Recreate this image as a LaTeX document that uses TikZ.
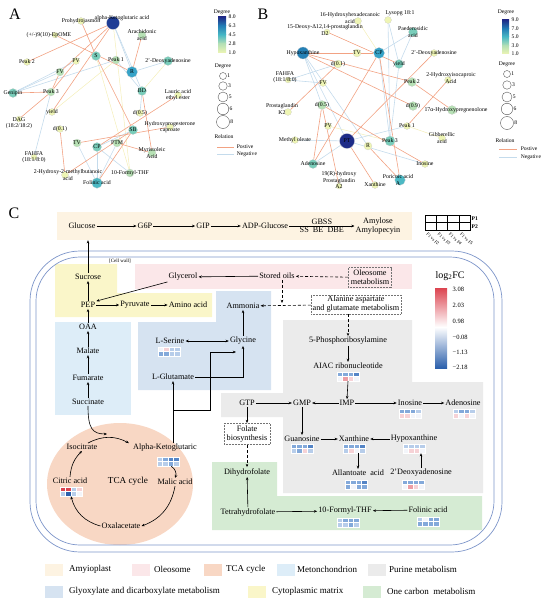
\documentclass[tikz,border=0pt]{standalone}
\usepackage{fontspec}
\setmainfont{Liberation Serif}
\usetikzlibrary{arrows.meta,backgrounds,positioning}

\definecolor{dg1}{HTML}{EEF5B4}
\definecolor{dg2}{HTML}{B7E1B5}
\definecolor{dg3}{HTML}{79CDBA}
\definecolor{dg4}{HTML}{4CB9C4}
\definecolor{dg5}{HTML}{36A3C8}
\definecolor{dg6}{HTML}{2480B6}
\definecolor{dg8}{HTML}{1F3D95}
\definecolor{dg9}{HTML}{1E2C88}
\definecolor{posc}{HTML}{F2A283}
\definecolor{negc}{HTML}{C4DBEC}
\definecolor{weakc}{HTML}{F4EEB8}
\definecolor{amyc}{HTML}{FDF3E2}
\definecolor{oleoc}{HTML}{FBE7E9}
\definecolor{tcac}{HTML}{F8D7C4}
\definecolor{mitoc}{HTML}{DDEDF8}
\definecolor{purc}{HTML}{EBEBEB}
\definecolor{glyoxc}{HTML}{D6E3F1}
\definecolor{cytoc}{HTML}{FAF6C9}
\definecolor{onecc}{HTML}{D5EBD3}
\definecolor{wallc}{HTML}{7D95C9}
\definecolor{hb1}{HTML}{B7CDEA}
\definecolor{hb2}{HTML}{83A9DA}
\definecolor{hb3}{HTML}{5585C6}
\definecolor{hb4}{HTML}{2C60AC}
\definecolor{hw}{HTML}{F3F5FA}
\definecolor{hr1}{HTML}{F6D2D6}
\definecolor{hr2}{HTML}{EC9EA5}
\definecolor{hr3}{HTML}{DC4450}

\begin{document}
\begin{tikzpicture}[
    x=1pt, y=-1pt,
    >={Stealth[length=3.2pt,width=2.6pt]},
    every node/.style={font=\fontsize{8.2}{9}\selectfont, inner sep=1pt},
    lab/.style={font=\fontsize{5.8}{6.2}\selectfont, align=center, inner sep=0pt},
    keyl/.style={font=\fontsize{5.6}{6}\selectfont, inner sep=0.5pt},
    nd/.style={circle, draw=black!20, line width=0.2pt, inner sep=0pt},
    deg1/.style={nd, fill=dg1, minimum size=7},
    deg2/.style={nd, fill=dg2, minimum size=8},
    deg3/.style={nd, fill=dg3, minimum size=9},
    deg4/.style={nd, fill=dg4, minimum size=10.5},
    deg5/.style={nd, fill=dg5, minimum size=11},
    deg6/.style={nd, fill=dg6, minimum size=12},
    deg8/.style={nd, fill=dg8, minimum size=13},
    deg9/.style={nd, fill=dg9, minimum size=15},
    legc/.style={circle, draw=black!65, line width=0.4pt, fill=white, inner sep=0pt},
    posl/.style={draw=posc, line width=0.6pt},
    negl/.style={draw=negc, line width=0.6pt},
    weakl/.style={draw=weakc, line width=0.5pt},
    arr/.style={->, line width=0.6pt},
    darr/.style={->, line width=0.6pt, densely dashed},
    dbox/.style={draw=black!55, densely dotted, line width=0.5pt, align=center, inner sep=2.5pt},
    txt/.style={align=center},
    hmap/.style={minimum width=22, minimum height=9, inner sep=0pt},
    swatch/.style={minimum width=18, minimum height=12, inner sep=0pt},
    leg/.style={font=\fontsize{9}{10}\selectfont, anchor=west},
    panel/.style={font=\fontsize{16}{16}\selectfont},
    wall/.style={draw=wallc, line width=0.7pt},
    fkey/.style={font=\fontsize{4.6}{5}\selectfont, inner sep=0pt, rotate=-45, anchor=west}
]
    \useasboundingbox (0,0) rectangle (550,602);

    % Panel letters
    \node[panel] (pA) at (15,14) {A};
    \node[panel] (pB) at (263,14) {B};
    \node[panel] (pC) at (14,213) {C};

    % ---------------- Network A ----------------
    \node[deg8, label={[lab, xshift=9, yshift=5]center:alpha-Ketoglutaric acid}] (aAKG) at (113,23) {};
    \node[deg1, label={[lab]center:Prohydrojasmon}] (aPro) at (81,21) {};
    \node[deg1, minimum size=6, label={[lab, xshift=-6]center:(+/-)9(10)-EpOME}] (aEp) at (55,35) {};
    \node[deg2, label={[lab]center:Arachidonic\\acid}] (aAra) at (142,35) {};
    \node[deg1, label={[lab]center:Peak 2}] (aP2) at (27,62) {};
    \node[deg1, label={[lab]center:PV}] (aPV) at (76,61) {};
    \node[deg3, label={[lab]center:S}] (aS) at (96,56) {};
    \node[deg2, label={[lab]center:Peak 1}] (aP1) at (116,60) {};
    \node[deg3, label={[lab]center:2'-Deoxyadenosine}] (aDA) at (168,61) {};
    \node[deg5, label={[lab]center:R}] (aR) at (132,72) {};
    \node[deg2, label={[lab]center:FV}] (aFV) at (60,72) {};
    \node[deg3, label={[lab]center:Genipin}] (aGe) at (13,93) {};
    \node[deg2, label={[lab]center:Peak 3}] (aP3) at (51,92) {};
    \node[deg3, label={[lab]center:BD}] (aBD) at (142,91) {};
    \node[deg1, label={[lab]center:Lauric acid\\ethyl ester}] (aLa) at (178,95) {};
    \node[deg1, label={[lab]center:yield}] (ayld) at (52,112) {};
    \node[deg1, label={[lab]center:d(0.5)}] (ad05) at (140,113) {};
    \node[deg1, minimum size=6, label={[lab, yshift=-4]center:{DAG\\(18:2/18:2)}}] (aDAG) at (19,119) {};
    \node[deg1, label={[lab]center:d(0.1)}] (ad01) at (60,129) {};
    \node[deg3, label={[lab]center:SB}] (aSB) at (133,130) {};
    \node[deg1, label={[lab]center:Hydroxyprogesterone\\caproate}] (aHy) at (170,127) {};
    \node[deg2, label={[lab]center:TV}] (aTV) at (77,143) {};
    \node[deg3, label={[lab]center:CP}] (aCP) at (97,147) {};
    \node[deg2, label={[lab]center:PTM}] (aPTM) at (117,143) {};
    \node[deg2, label={[lab]center:Myristoleic\\Acid}] (aMy) at (152,153) {};
    \node[deg1, minimum size=6, label={[lab]center:{FAHFA\\(18:1/8:0)}}] (aFA) at (34,157) {};
    \node[deg1, label={[lab, xshift=3]center:2-Hydroxy-2-methylbutanoic\\acid}] (aHB) at (65,175) {};
    \node[deg2, label={[lab]center:10-Formyl-THF}] (aFT) at (130,173) {};
    \node[deg4, label={[lab]center:Folinic acid}] (aFo) at (97,183) {};

    \begin{scope}[on background layer]
        \draw[weakl] (aAKG) -- (aFT);  \draw[weakl] (aDA) -- (aBD);
        \draw[weakl] (aP1) -- (ayld);  \draw[weakl] (aS) -- (aFT);
        \draw[negl] (aGe) -- (aFV);    \draw[negl] (aGe) -- (aPV);
        \draw[negl] (aGe) -- (aP1);    \draw[negl] (aFA) -- (aP3);
        \draw[negl] (aCP) -- (aFo);    \draw[negl] (aTV) -- (aFo);
        \draw[negl] (aCP) -- (aFT);    \draw[negl] (aPTM) -- (aFo);
        \draw[negl] (aR) -- (aDA);     \draw[negl] (aP1) -- (aBD);
        \draw[negl] (aAKG) -- (aR);    \draw[negl] (aAKG) -- (aBD);
        \draw[negl] (aBD) -- (ad05);   \draw[negl] (aCP) -- (aSB);
        \draw[posl] (aPro) -- (aS);    \draw[posl] (aAKG) -- (aP2);
        \draw[posl] (aAKG) -- (aFV);   \draw[posl] (aAKG) -- (ayld);
        \draw[posl] (aEp) -- (aR);     \draw[posl] (aAra) -- (aR);
        \draw[posl] (aS) -- (aSB);     \draw[posl] (aFV) -- (aP3);
        \draw[posl] (aGe) -- (aP3);    \draw[posl] (aP3) -- (aDAG);
        \draw[posl] (aPV) -- (aP3);    \draw[posl] (aLa) -- (aCP);
        \draw[posl] (aHy) -- (aTV);    \draw[posl] (ad01) -- (aHB);
        \draw[posl] (aHB) -- (aSB);    \draw[posl] (aPTM) -- (aMy);
        \draw[posl] (aBD) -- (aMy);    \draw[posl] (aFo) -- (aSB);
    \end{scope}

    % Legend A
    \node[keyl] (aDegT) at (222,12) {Degree};
    \shade[top color=dg9, bottom color=dg6] (218,17) rectangle (226,26);
    \shade[top color=dg6, bottom color=dg4] (218,26) rectangle (226,35);
    \shade[top color=dg4, bottom color=dg2] (218,35) rectangle (226,44);
    \shade[top color=dg2, bottom color=dg1] (218,44) rectangle (226,53);
    \node[keyl, anchor=west] (aK1) at (228,17) {8.0};
    \node[keyl, anchor=west] (aK2) at (228,26) {6.3};
    \node[keyl, anchor=west] (aK3) at (228,35) {4.5};
    \node[keyl, anchor=west] (aK4) at (228,44) {2.8};
    \node[keyl, anchor=west] (aK5) at (228,53) {1.0};
    \node[keyl] (aDegC) at (223,66) {Degree};
    \node[legc, minimum size=7, label={[keyl]right:1}] (aL1) at (223,76) {};
    \node[legc, minimum size=8.5, label={[keyl]right:3}] (aL3) at (223,86) {};
    \node[legc, minimum size=10, label={[keyl]right:5}] (aL5) at (223,97) {};
    \node[legc, minimum size=11.5, label={[keyl]right:6}] (aL6) at (223,109) {};
    \node[legc, minimum size=13, label={[keyl]right:8}] (aL8) at (223,122) {};
    \node[keyl] (aRel) at (224,137) {Relation};
    \draw[posl] (217,147) -- (234,147) node[keyl, right=2pt] (aPosT) {Postive};
    \draw[negl] (217,154) -- (234,154) node[keyl, right=2pt] (aNegT) {Negative};

    % ---------------- Network B ----------------
    \node[deg1, label={[lab, xshift=-8, yshift=3]center:16-Hydroxyhexadecanoic\\acid}] (b16) at (358,21) {};
    \node[deg1, label={[lab, xshift=12, yshift=7]center:{Lysopg 18:1}}] (bLy) at (388,20) {};
    \node[deg1, minimum size=6, label={[lab, xshift=-2, yshift=2]center:15-Deoxy-Δ12,14-prostaglandin\\D2}] (b15) at (327,32) {};
    \node[deg3, label={[lab]center:Paederosidic\\acid}] (bPa) at (413,32) {};
    \node[deg6, label={[lab]center:Hypoxanthine}] (bHx) at (303,53) {};
    \node[deg1, minimum size=8, label={[lab]center:TV}] (bTV) at (357,53) {};
    \node[deg5, label={[lab]center:CP}] (bCP) at (379,53) {};
    \node[deg1, label={[lab]center:2'-Deoxyadenosine}] (bDA) at (434,53) {};
    \node[deg1, minimum size=8, label={[lab]center:d(0.1)}] (bd01) at (338,64) {};
    \node[deg3, label={[lab]center:yield}] (byl) at (399,64) {};
    \node[deg1, minimum size=6, label={[lab, xshift=-3, yshift=3]center:{FAHFA\\(18:1/8:0)}}] (bFA) at (288,80) {};
    \node[deg1, label={[lab]center:FV}] (bFV) at (323,83) {};
    \node[deg2, minimum size=9, label={[lab]center:Peak 2}] (bP2) at (412,82) {};
    \node[deg1, label={[lab, xshift=3, yshift=2]center:2-Hydroxyisocaproic\\Acid}] (bHI) at (448,80) {};
    \node[deg1, label={[lab, xshift=-6, yshift=3]center:Prostaglandin\\K2}] (bPK) at (288,112) {};
    \node[deg2, minimum size=9, label={[lab]center:d(0.5)}] (bd05) at (322,105) {};
    \node[deg2, minimum size=9, label={[lab]center:d(0.9)}] (bd09) at (413,106) {};
    \node[deg2, minimum size=9, label={[lab, xshift=4]center:17α-Hydroxypregnenolone}] (b17) at (452,110) {};
    \node[deg1, label={[lab]center:PV}] (bPV) at (328,126) {};
    \node[deg1, label={[lab]center:Peak 1}] (bP1) at (407,126) {};
    \node[deg1, label={[lab]center:Methyl oleate}] (bMO) at (295,140) {};
    \node[deg9, label={[lab]center:PT}] (bPT) at (347,141) {};
    \node[deg1, minimum size=8, label={[lab]center:R}] (bR) at (368,146) {};
    \node[deg3, minimum size=10, label={[lab]center:Peak 3}] (bP3) at (390,141) {};
    \node[deg1, label={[lab]center:Gibberellic\\acid}] (bGi) at (442,138) {};
    \node[deg3, label={[lab]center:Adenosine}] (bAd) at (313,164) {};
    \node[deg1, label={[lab]center:Inosine}] (bIn) at (425,164) {};
    \node[deg1, minimum size=6, label={[lab, yshift=6]center:19(R)-hydroxy\\Prostaglandin\\A2}] (b19) at (339,186) {};
    \node[deg1, label={[lab]center:Xanthine}] (bXa) at (375,185) {};
    \node[deg4, label={[lab, xshift=-2]center:Poricoic acid\\A}] (bPo) at (400,180) {};

    \begin{scope}[on background layer]
        \draw[weakl] (b16) -- (bCP);   \draw[weakl] (bP1) -- (bGi);
        \draw[weakl] (bPV) -- (bP3);
        \draw[negl] (bLy) -- (byl);    \draw[negl] (bPa) -- (byl);
        \draw[negl] (bPa) -- (bCP);    \draw[negl] (bFA) -- (bFV);
        \draw[negl] (bFA) -- (bd01);   \draw[negl] (bMO) -- (bPT);
        \draw[negl] (bPT) -- (bP1);    \draw[negl] (bPT) -- (bIn);
        \draw[negl] (bHx) -- (bPT);    \draw[negl] (bHx) -- (bR);
        \draw[negl] (bHx) -- (bd05);   \draw[negl] (bP3) -- (byl);
        \draw[negl] (bLy) -- (bP3);    \draw[negl] (bCP) -- (bP3);
        \draw[negl] (bAd) -- (bPT);
        \draw[posl] (b15) -- (byl);    \draw[posl] (bHx) -- (bP2);
        \draw[posl] (bHx) -- (bd09);   \draw[posl] (bHx) -- (bCP);
        \draw[posl] (bCP) -- (bAd);    \draw[posl] (bCP) -- (bPo);
        \draw[posl] (bd01) -- (bPK);   \draw[posl] (bDA) -- (bPT);
        \draw[posl] (bHI) -- (bP1);    \draw[posl] (bP2) -- (b17);
        \draw[posl] (bd05) -- (bAd);   \draw[posl] (bd05) -- (b19);
        \draw[posl] (bd05) -- (bIn);   \draw[posl] (bPT) -- (bXa);
        \draw[posl] (bR) -- (bPo);
    \end{scope}

    % Legend B
    \node[keyl] (bDegT) at (506,12) {Degree};
    \shade[top color=dg9, bottom color=dg6] (502,20) rectangle (509,29);
    \shade[top color=dg6, bottom color=dg4] (502,29) rectangle (509,37);
    \shade[top color=dg4, bottom color=dg2] (502,37) rectangle (509,46);
    \shade[top color=dg2, bottom color=dg1] (502,46) rectangle (509,54);
    \node[keyl, anchor=west] (bK1) at (511,20) {9.0};
    \node[keyl, anchor=west] (bK2) at (511,28.5) {7.0};
    \node[keyl, anchor=west] (bK3) at (511,37) {5.0};
    \node[keyl, anchor=west] (bK4) at (511,45.5) {3.0};
    \node[keyl, anchor=west] (bK5) at (511,54) {1.0};
    \node[keyl] (bDegC) at (507,64) {Degree};
    \node[legc, minimum size=7, label={[keyl]right:1}] (bL1) at (507,74) {};
    \node[legc, minimum size=8.5, label={[keyl]right:3}] (bL3) at (507,85) {};
    \node[legc, minimum size=10, label={[keyl]right:5}] (bL5) at (507,97) {};
    \node[legc, minimum size=11.5, label={[keyl]right:6}] (bL6) at (507,109) {};
    \node[legc, minimum size=13, label={[keyl]right:8}] (bL8) at (507,123) {};
    \node[keyl] (bRel) at (505,141) {Relation};
    \draw[posl] (499,149) -- (517,149) node[keyl, right=3pt] (bPosT) {Postive};
    \draw[negl] (499,157) -- (517,157) node[keyl, right=3pt] (bNegT) {Negative};

    % ---------------- Panel C: regions ----------------
    \node[fill=amyc, minimum width=355, minimum height=28, inner sep=0pt] (amylo) at (234.5,226) {};
    \fill[cytoc] (55,264) -- (117,264) -- (117,293) -- (212,293) -- (212,317) -- (55,317) -- cycle;
    \fill[oleoc] (135,264) rectangle (412,289);
    \fill[mitoc] (55,322) rectangle (131,415);
    \fill[glyoxc] (216,291) -- (271,291) -- (271,390) -- (138,390) -- (138,322) -- (216,322) -- cycle;
    \fill[purc] (283,320) -- (412,320) -- (412,382) -- (483,382) -- (483,493) -- (283,493)
        -- (283,417) -- (221,417) -- (221,393) -- (283,393) -- cycle;
    \fill[onecc] (212,462) -- (277,462) -- (277,496) -- (482,496) -- (482,530) -- (212,530) -- cycle;
    \fill[tcac] (120,484) ellipse [x radius=73, y radius=61];

    % Cell wall
    \draw[wall, rounded corners=50] (30,251) rectangle (502,552);
    \draw[wall, rounded corners=44] (36,257) rectangle (494,545);
    \node[font=\fontsize{5}{5}\selectfont] (cwall) at (120,261) {[Cell wall]};

    % Amyloplast row
    \node (glc) at (82,226) {Glucose};
    \node (g6p) at (145,226) {G6P};
    \node (gip) at (203,226) {GIP};
    \node (adp) at (265,226) {ADP-Glucose};
    \node[txt] (amyl) at (378,226) {Amylose\\Amylopecyin};
    \draw[arr] (glc) -- (g6p);
    \draw[arr] (g6p) -- (gip);
    \draw[arr] (gip) -- (adp);
    \draw[arr] (adp) -- (amyl)
        node[midway, above=0pt] (gbss) {GBSS}
        node[midway, below=0pt] (ssbe) {SS\enspace BE\enspace DBE};

    % Key grid (columns: comparisons, rows: P1 and P2)
    \foreach \i in {0,...,3} {
        \foreach \j in {0,1} {
            \draw[line width=0.4pt] (425+11.25*\i,215+7.5*\j) rectangle ++(11.25,7.5);
        }
    }
    \node[keyl, font=\fontsize{5.6}{6}\selectfont\bfseries, anchor=west] (kP1) at (471,218.5) {P1};
    \node[keyl, font=\fontsize{5.6}{6}\selectfont\bfseries, anchor=west] (kP2) at (471,226.5) {P2};
    \node[fkey] (kF2) at (427,233) {F1 vs F2};
    \node[fkey] (kF3) at (438.25,233) {F1 vs F3};
    \node[fkey] (kF4) at (449.5,233) {F1 vs F4};
    \node[fkey] (kF5) at (460.75,233) {F1 vs F5};

    % log2FC colour bar
    \node[font=\fontsize{10}{11}\selectfont] (fcT) at (450,276) {log\textsubscript{2}FC};
    \shade[top color=hr3, bottom color=white] (435,288) rectangle (447,327);
    \shade[top color=white, bottom color=hb4] (435,327) rectangle (447,368);
    \node[keyl, font=\fontsize{6.5}{7}\selectfont, anchor=west] (fc1) at (452,289) {3.08};
    \node[keyl, font=\fontsize{6.5}{7}\selectfont, anchor=west] (fc2) at (452,305) {2.03};
    \node[keyl, font=\fontsize{6.5}{7}\selectfont, anchor=west] (fc3) at (452,321) {0.98};
    \node[keyl, font=\fontsize{6.5}{7}\selectfont, anchor=west] (fc4) at (452,337) {−0.08};
    \node[keyl, font=\fontsize{6.5}{7}\selectfont, anchor=west] (fc5) at (452,352) {−1.13};
    \node[keyl, font=\fontsize{6.5}{7}\selectfont, anchor=west] (fc6) at (452,367) {−2.18};

    % Cytoplasm and oleosome
    \node (suc) at (88,277) {Sucrose};
    \node (gly) at (183,277) {Glycerol};
    \node (oils) at (277,276) {Stored oils};
    \node[dbox] (oleo) at (370,277.5) {Oleosome\\metabolism};
    \node (pep) at (88,305) {PEP};
    \node (pyr) at (135,305) {Pyruvate};
    \node (amino) at (188,305) {Amino acid};
    \node (amm) at (243,306) {Ammonia};
    \node[dbox, inner sep=1.5pt] (ala) at (356,304.5) {Alanine aspartate\\and glutamate metabolism};
    \coordinate (oilsdn) at (282,303);

    \draw[arr] (suc.north) -- (suc.north |- amylo.south);
    \draw[arr] (pep) -- (suc);
    \draw[arr] (gly.south west) -- (pep.north east);
    \draw[arr] (oils) -- (gly);
    \draw[darr] (oleo) -- (oils);
    \draw[darr] (oils.south -| oilsdn) -- (oilsdn);
    \draw[darr] (ala) -- (amm);
    \draw[arr] (pep) -- (pyr);
    \draw[arr] (pyr) -- (amino);

    % Mitochondrion
    \node (oaa) at (88,327) {OAA};
    \node (malate) at (88,351) {Malate};
    \node (fum) at (88,378) {Fumarate};
    \node (succ) at (88,402) {Succinate};
    \draw[arr] (oaa) -- (pep);
    \draw[arr] (malate) -- (oaa);
    \draw[arr] (fum) -- (malate);
    \draw[arr] (succ) -- (fum);

    % Glyoxylate and dicarboxylate
    \node (ser) at (170,341) {L-Serine};
    \node (glyc) at (243,341) {Glycine};
    \node (glu) at (173,377) {L-Glutamate};
    \coordinate (kbr) at (173,410);
    \coordinate (glyin) at (236,352);
    \draw[<->, line width=0.6pt] (ser) -- (glyc);
    \draw[arr] (glyc) -- (amm);
    \draw[arr] (glu.east) -| (glyc.south);
    \draw[arr] (kbr) -- ++(37,0) |- (glyin);

    % Purine metabolism
    \node (prib) at (348,341) {5-Phosphoribosylamine};
    \node (aiac) at (348,366) {AIAC ribonucleotide};
    \node (gtp) at (247,403) {GTP};
    \node (gmp) at (302,403) {GMP};
    \node (imp) at (347,403) {IMP};
    \node (ino) at (410,403) {Inosine};
    \node (ade) at (463,403) {Adenosine};
    \node (guo) at (302,439) {Guanosine};
    \node (xan) at (354,439) {Xanthine};
    \node (hyp) at (414,439) {Hypoxanthine};
    \node (all) at (358,473) {Allantoate\enspace acid};
    \node (dea) at (421,473) {2'Deoxyadenosine};
    \node[dbox] (fol) at (247,434) {Folate\\biosynthesis};

    % One carbon metabolism
    \node (dhf) at (247,472) {Dihydrofolate};
    \node (thf) at (248,512) {Tetrahydrofolate};
    \node (fthf) at (345,511) {10-Formyl-THF};
    \node (fola) at (428,510) {Folinic acid};

    % TCA cycle
    \node (iso) at (82,447) {Isocitrate};
    \node (akg) at (165,448) {Alpha-Ketoglutaric};
    \node (cit) at (70,481) {Citric acid};
    \node[font=\fontsize{9.2}{10}\selectfont] (tcal) at (128,481) {TCA cycle};
    \node (mal) at (175,482) {Malic acid};
    \node (oxa) at (121,526) {Oxalacetate};
    \coordinate (tcain) at (107,434);

    % Heat maps (P1 top row, P2 bottom row)
    \foreach \nm/\hx/\hy/\ca/\cb/\cc/\cd/\ce/\cf/\cg/\ch in {
        ser/158/347/hw/hr1/hb1/hb1/hb2/hb2/hb1/hb1,
        aiac/337/372/hb2/hb2/hb2/hb3/hw/hr2/hr1/hw,
        ino/399/409/hb2/hb2/hb2/hb1/hr1/hr1/hw/hw,
        ade/453/409/hb1/hb2/hb2/hb1/hr1/hw/hr1/hw,
        guo/291/444/hb2/hb2/hb2/hb3/hb1/hb2/hr1/hb1,
        xan/343/444/hb2/hb2/hb2/hb3/hb1/hr1/hw/hb1,
        hyp/403/444/hb1/hb1/hb1/hb1/hw/hr1/hr1/hw,
        all/345/480/hb2/hb2/hb2/hb3/hb2/hw/hb2/hb2,
        dea/402/480/hb2/hb2/hb2/hb2/hw/hr2/hr1/hw,
        akg/157/457/hb1/hb2/hb3/hb3/hb1/hb1/hb2/hb1,
        cit/60/487/hr3/hr3/hb1/hr1/hb1/hb4/hb1/hw,
        fthf/337/518/hb1/hb2/hb2/hb2/hb1/hb1/hb2/hb1,
        fola/417/517/hb1/hw/hb2/hb2/hb2/hb2/hb2/hb2} {
        \node[hmap] (hm-\nm) at (\hx+11,\hy+4.5) {};
        \fill[\ca, draw=white, line width=0.2pt] (\hx,\hy) rectangle ++(5.5,4.5);
        \fill[\cb, draw=white, line width=0.2pt] (\hx+5.5,\hy) rectangle ++(5.5,4.5);
        \fill[\cc, draw=white, line width=0.2pt] (\hx+11,\hy) rectangle ++(5.5,4.5);
        \fill[\cd, draw=white, line width=0.2pt] (\hx+16.5,\hy) rectangle ++(5.5,4.5);
        \fill[\ce, draw=white, line width=0.2pt] (\hx,\hy+4.5) rectangle ++(5.5,4.5);
        \fill[\cf, draw=white, line width=0.2pt] (\hx+5.5,\hy+4.5) rectangle ++(5.5,4.5);
        \fill[\cg, draw=white, line width=0.2pt] (\hx+11,\hy+4.5) rectangle ++(5.5,4.5);
        \fill[\ch, draw=white, line width=0.2pt] (\hx+16.5,\hy+4.5) rectangle ++(5.5,4.5);
    }

    % Purine arrows
    \draw[darr] (ala.south -| prib.north) -- (prib.north);
    \draw[arr] (prib) -- (aiac);
    \draw[arr] (hm-aiac.south) -- (imp.north);
    \draw[arr] (gtp) -- (gmp);
    \draw[arr] (imp) -- (gmp);
    \draw[arr] (imp) -- (ino);
    \draw[arr] (ino) -- (ade);
    \draw[arr] (gmp) -- (guo);
    \draw[arr] (guo) -- (xan);
    \draw[arr] (hyp) -- (xan);
    \draw[arr] (hm-xan.south -| all.north) -- (all.north);
    \draw[arr] (dea.north) -- (dea.north |- hm-hyp.south);

    % Folate arrows
    \draw[arr] (gtp) -- (fol);
    \draw[darr] (fol) -- (dhf);
    \draw[arr] (thf) -- (dhf);
    \draw[arr] (thf) -- (fthf);
    \draw[arr] (fola) -- (fthf);

    % TCA arrows
    \draw[arr] (succ.south) .. controls (88,428) and (92,434) .. (tcain);
    \draw[arr] ([xshift=6]iso.north) to[bend left=28] ([xshift=-3]akg.north west);
    \draw[arr] (cit.north) to[bend left=20] (iso.south);
    \draw[arr] (oxa.west) to[bend left=30] (hm-cit.south);
    \draw[arr] (mal.south) to[bend left=30] (oxa.east);
    \draw[arr] ([xshift=-8]hm-akg.south east) to[bend left=40] (mal.north);
    \draw[arr] (akg.north -| glu.south) -- (glu.south);

    % Bottom legend
    \node[swatch, fill=amyc] (sw1) at (54,570) {};
    \node[leg] (lg1) at (68,569) {Amyioplast};
    \node[swatch, fill=oleoc] (sw2) at (141,570) {};
    \node[leg] (lg2) at (153,569) {Oleosome};
    \node[swatch, fill=tcac] (sw3) at (213,570) {};
    \node[leg] (lg3) at (225,569) {TCA cycle};
    \node[swatch, fill=mitoc] (sw4) at (286,570) {};
    \node[leg] (lg4) at (296,569) {Metonchondrion};
    \node[swatch, fill=purc] (sw5) at (377,570) {};
    \node[leg] (lg5) at (388,569) {Purine metabolism};
    \node[swatch, fill=glyoxc] (sw6) at (54,592) {};
    \node[leg] (lg6) at (68,591) {Glyoxylate and dicarboxylate metabolism};
    \node[swatch, fill=cytoc] (sw7) at (257,592) {};
    \node[leg] (lg7) at (271,591) {Cytoplasmic matrix};
    \node[swatch, fill=onecc] (sw8) at (372,592) {};
    \node[leg] (lg8) at (386,591) {One carbon\enspace metabolism};
\end{tikzpicture}
\end{document}
